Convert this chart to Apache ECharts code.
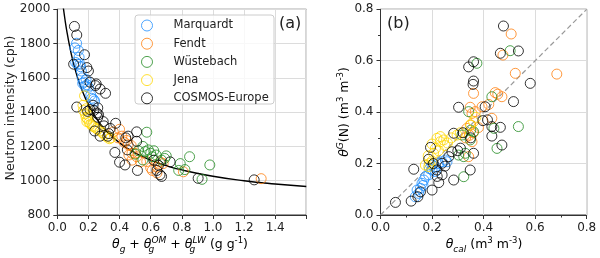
<!DOCTYPE html>
<html><head><meta charset="utf-8">
<script src="https://cdn.jsdelivr.net/npm/echarts@6/dist/echarts.min.js"></script>
<style>html,body{margin:0;padding:0;background:#fff}#c{width:600px;height:258px}</style>
</head><body><div id="c"></div>
<script>
// ---- data ----
const seriesNames = ['Marquardt', 'Fendt', 'Wüstebach', 'Jena', 'COSMOS-Europe'];
const seriesColors = ['#1f8fff', '#ff7f0e', '#228b22', '#ffd700', '#000000'];

// panel (a): x = theta_g + theta_OM + theta_LW (g/g), y = neutron intensity (cph)
const fitTheta = [0.035, 0.05, 0.06, 0.08, 0.10, 0.12, 0.15, 0.20, 0.25, 0.30, 0.40, 0.50, 0.60, 0.70, 0.80, 1.00, 1.20, 1.40, 1.60];
const fitN = [2035, 1936, 1879, 1781, 1700, 1632, 1549, 1443, 1366, 1306, 1221, 1162, 1120, 1088, 1063, 1026, 1000, 981, 966];

const marqA = [[0.124,1802],[0.113,1775],[0.135,1760],[0.118,1690],[0.130,1680],[0.150,1665],[0.140,1720],[0.155,1640],[0.160,1600],[0.163,1568],[0.178,1552],[0.170,1575],[0.190,1560],[0.200,1545],[0.215,1500],[0.221,1481],[0.232,1475],[0.240,1465],[0.145,1680],[0.185,1590]];
const fendtA = [[0.36,1285],[0.40,1300],[0.39,1250],[0.415,1260],[0.43,1225],[0.445,1235],[0.455,1210],[0.475,1205],[0.46,1150],[0.48,1160],[0.50,1160],[0.48,1120],[0.51,1140],[0.535,1110],[0.575,1112],[0.60,1075],[0.61,1060],[0.64,1045],[0.64,1080],[0.66,1110],[0.68,1100],[0.81,1052],[1.31,1012]];
const wuestA = [[0.575,1283],[0.50,1155],[0.52,1175],[0.55,1200],[0.55,1121],[0.565,1170],[0.585,1180],[0.60,1160],[0.61,1140],[0.62,1175],[0.635,1150],[0.67,1120],[0.69,1130],[0.70,1145],[0.78,1060],[0.79,1100],[0.82,1065],[0.85,1140],[0.93,1008],[0.98,1092]];
const jenaA = [[0.175,1495],[0.165,1440],[0.168,1410],[0.180,1390],[0.185,1370],[0.195,1360],[0.19,1345],[0.205,1340],[0.215,1330],[0.225,1320],[0.235,1315],[0.25,1305],[0.26,1300],[0.275,1290],[0.29,1280],[0.305,1265],[0.32,1255],[0.335,1245],[0.345,1250],[0.2,1380],[0.185,1420]];
const cosmosA = [[0.11,1900],[0.125,1850],[0.175,1735],[0.105,1680],[0.19,1660],[0.20,1640],[0.21,1575],[0.245,1555],[0.275,1535],[0.31,1510],[0.25,1565],[0.125,1430],[0.195,1405],[0.21,1415],[0.255,1395],[0.265,1385],[0.23,1440],[0.26,1370],[0.295,1345],[0.30,1320],[0.375,1335],[0.24,1290],[0.275,1260],[0.33,1275],[0.325,1260],[0.34,1305],[0.44,1250],[0.455,1260],[0.51,1285],[0.51,1230],[0.37,1165],[0.40,1108],[0.435,1092],[0.515,1060],[0.64,1060],[0.66,1035],[0.67,1025],[0.725,1110],[0.905,1014],[1.265,1005],[0.62,1120],[0.65,1090],[0.45,1180],[0.235,1410],[0.26,1425]];

// panel (b): x = theta_cal, y = theta_G(N)
const oneToOne = [[0, 0], [0.8, 0.8]];
const marqB = [[0.148,0.084],[0.155,0.104],[0.161,0.123],[0.168,0.136],[0.187,0.156],[0.2,0.175],[0.213,0.188],[0.239,0.207],[0.252,0.214],[0.2,0.194],[0.213,0.169],[0.142,0.097],[0.135,0.071],[0.258,0.207],[0.175,0.15],[0.225,0.2],[0.165,0.115],[0.19,0.18]];
const fendtB = [[0.507,0.704],[0.475,0.622],[0.523,0.551],[0.684,0.548],[0.361,0.473],[0.348,0.419],[0.368,0.402],[0.394,0.421],[0.355,0.395],[0.445,0.476],[0.455,0.47],[0.471,0.46],[0.432,0.376],[0.42,0.43],[0.335,0.337],[0.345,0.31],[0.355,0.285],[0.342,0.227],[0.35,0.35],[0.38,0.34],[0.33,0.3],[0.36,0.32]];
const wuestB = [[0.503,0.639],[0.374,0.59],[0.432,0.46],[0.342,0.402],[0.361,0.324],[0.316,0.311],[0.348,0.292],[0.323,0.227],[0.329,0.24],[0.452,0.259],[0.535,0.344],[0.44,0.337],[0.323,0.149],[0.303,0.233],[0.35,0.33]];
const jenaB = [[0.174,0.194],[0.187,0.188],[0.2,0.276],[0.206,0.24],[0.213,0.259],[0.219,0.298],[0.232,0.305],[0.245,0.292],[0.232,0.285],[0.26,0.28],[0.275,0.3],[0.297,0.311],[0.31,0.32],[0.348,0.35],[0.361,0.363],[0.37,0.38],[0.19,0.2],[0.2,0.21],[0.225,0.25],[0.185,0.23],[0.25,0.27]];
const cosmosB = [[0.058,0.049],[0.119,0.054],[0.145,0.071],[0.155,0.09],[0.129,0.178],[0.2,0.097],[0.226,0.126],[0.239,0.156],[0.284,0.136],[0.194,0.263],[0.187,0.217],[0.219,0.175],[0.239,0.201],[0.265,0.227],[0.277,0.246],[0.284,0.318],[0.303,0.419],[0.342,0.576],[0.361,0.596],[0.361,0.521],[0.359,0.508],[0.361,0.24],[0.348,0.175],[0.406,0.421],[0.397,0.367],[0.415,0.37],[0.432,0.344],[0.432,0.307],[0.465,0.341],[0.471,0.272],[0.477,0.735],[0.465,0.629],[0.535,0.638],[0.516,0.441],[0.581,0.512],[0.31,0.26],[0.25,0.19],[0.22,0.15],[0.205,0.2],[0.32,0.32],[0.35,0.3],[0.3,0.25]];

const panelA = [marqA, fendtA, wuestA, jenaA, cosmosA];
const panelB = [marqB, fendtB, wuestB, jenaB, cosmosB];

// ---- chart ----
const FONT = 'DejaVu Sans';
const chart = echarts.init(document.getElementById('c'), null, {renderer: 'canvas'});

function axisCommon(extra) {
  return Object.assign({
    type: 'value',
    axisLine: {show: true, lineStyle: {color: '#333', width: 1}},
    axisTick: {show: true, inside: false, length: 4, lineStyle: {color: '#333', width: 1}},
    axisLabel: {color: '#222', fontSize: 12, fontFamily: FONT, margin: 7},
    splitLine: {show: true, lineStyle: {color: '#dcdcdc', width: 1}}
  }, extra);
}

const series = [];
series.push({
  type: 'line', xAxisIndex: 0, yAxisIndex: 0, smooth: true, symbol: 'none', clip: true,
  data: fitTheta.map((t, i) => [t, fitN[i]]),
  lineStyle: {color: '#000', width: 1.4}, z: 1, silent: true
});
series.push({
  type: 'line', xAxisIndex: 1, yAxisIndex: 1, symbol: 'none', data: oneToOne,
  lineStyle: {color: '#999', width: 1.2, type: [5, 3]}, z: 1, silent: true
});
seriesNames.forEach((name, i) => {
  [panelA, panelB].forEach((panel, p) => {
    series.push({
      type: 'scatter', name: name, xAxisIndex: p, yAxisIndex: p,
      data: panel[i], symbol: 'circle', symbolSize: 10,
      itemStyle: {color: 'rgba(0,0,0,0)', borderColor: seriesColors[i], borderWidth: 1}
    });
  });
});

const rich = {
  it: {fontFamily: FONT, fontStyle: 'italic', fontSize: 12.5, lineHeight: 18, color: '#222'},
  n: {fontFamily: FONT, fontSize: 12.5, lineHeight: 18, color: '#222'},
  sb: {fontFamily: FONT, fontStyle: 'italic', fontSize: 9, lineHeight: 10, verticalAlign: 'bottom', color: '#222'},
  sbz: {fontFamily: FONT, fontStyle: 'italic', fontSize: 9, lineHeight: 10, verticalAlign: 'bottom', width: 0, color: '#222'},
  sp: {fontFamily: FONT, fontStyle: 'italic', fontSize: 9, lineHeight: 10, verticalAlign: 'top', color: '#222'},
  sp2: {fontFamily: FONT, fontSize: 8.5, lineHeight: 10, verticalAlign: 'top', color: '#222'}
};

chart.setOption({
  animation: false,
  grid: [
    {left: 57.3, top: 9.3, width: 249, height: 205.7, show: true, borderColor: '#333', borderWidth: 1},
    {left: 380.5, top: 9.3, width: 206.2, height: 205.7, show: true, borderColor: '#333', borderWidth: 1}
  ],
  xAxis: [
    axisCommon({gridIndex: 0, min: 0, max: 1.6, interval: 0.2,
      axisLabel: {color: '#222', fontSize: 12, fontFamily: FONT, margin: 7,
        formatter: v => (v > 1.55 ? '' : v.toFixed(1))}}),
    axisCommon({gridIndex: 1, min: 0, max: 0.8, interval: 0.2,
      axisLabel: {color: '#222', fontSize: 12, fontFamily: FONT, margin: 7, formatter: v => v.toFixed(1)},
      minorTick: {show: true, splitNumber: 2, length: 2.5, lineStyle: {color: '#333'}}})
  ],
  yAxis: [
    axisCommon({gridIndex: 0, min: 800, max: 2000, interval: 200,
      axisLabel: {color: '#222', fontSize: 12, fontFamily: FONT, margin: 7, formatter: v => String(v)}}),
    axisCommon({gridIndex: 1, min: 0, max: 0.8, interval: 0.2,
      axisLabel: {color: '#222', fontSize: 12, fontFamily: FONT, margin: 7, formatter: v => v.toFixed(1)},
      minorTick: {show: true, splitNumber: 2, length: 2.5, lineStyle: {color: '#333'}}})
  ],
  legend: {
    orient: 'vertical', left: 141, top: 19.5, padding: 0,
    itemWidth: 11, itemHeight: 11, itemGap: 6.2, icon: 'circle',
    itemStyle: {borderWidth: 1},
    textStyle: {fontFamily: FONT, fontSize: 11.5, lineHeight: 11, color: '#222', padding: [0, 0, 0, 16]},
    data: seriesNames
  },
  graphic: [
    {type: 'rect', z: 3, shape: {x: 135, y: 15, width: 139, height: 89, r: 3},
      style: {fill: 'rgba(255,255,255,0.8)', stroke: '#cccccc', lineWidth: 1}},
    {type: 'text', z: 5, left: 279, top: 16, style: {text: '(a)', fontFamily: FONT, fontSize: 16, fill: '#222'}},
    {type: 'text', z: 5, left: 387, top: 16, style: {text: '(b)', fontFamily: FONT, fontSize: 16, fill: '#222'}},
    {type: 'text', z: 5, x: 11, y: 108, rotation: Math.PI / 2,
      style: {text: 'Neutron intensity (cph)', fontFamily: FONT, fontSize: 12.5, fill: '#222', align: 'center', verticalAlign: 'middle'}},
    {type: 'text', z: 5, x: 180, y: 245,
      style: {text: '{it|θ}{sb|g}{n| + }{it|θ}{sbz|g}{sp|OM}{n| + }{it|θ}{sbz|g}{sp|LW}{n| (g g}{sp2|-1}{n|)}',
        rich: rich, align: 'center', verticalAlign: 'middle'}},
    {type: 'text', z: 5, x: 484, y: 245,
      style: {text: '{it|θ}{sb|cal}{n| (m}{sp2|3}{n| m}{sp2|-3}{n|)}', rich: rich, align: 'center', verticalAlign: 'middle'}},
    {type: 'text', z: 5, x: 345, y: 112, rotation: Math.PI / 2,
      style: {text: '{it|θ}{sp|G}{n|(N) (m}{sp2|3}{n| m}{sp2|-3}{n|)}', rich: rich, align: 'center', verticalAlign: 'middle'}}
  ],
  series: series
});
</script>
</body></html>
